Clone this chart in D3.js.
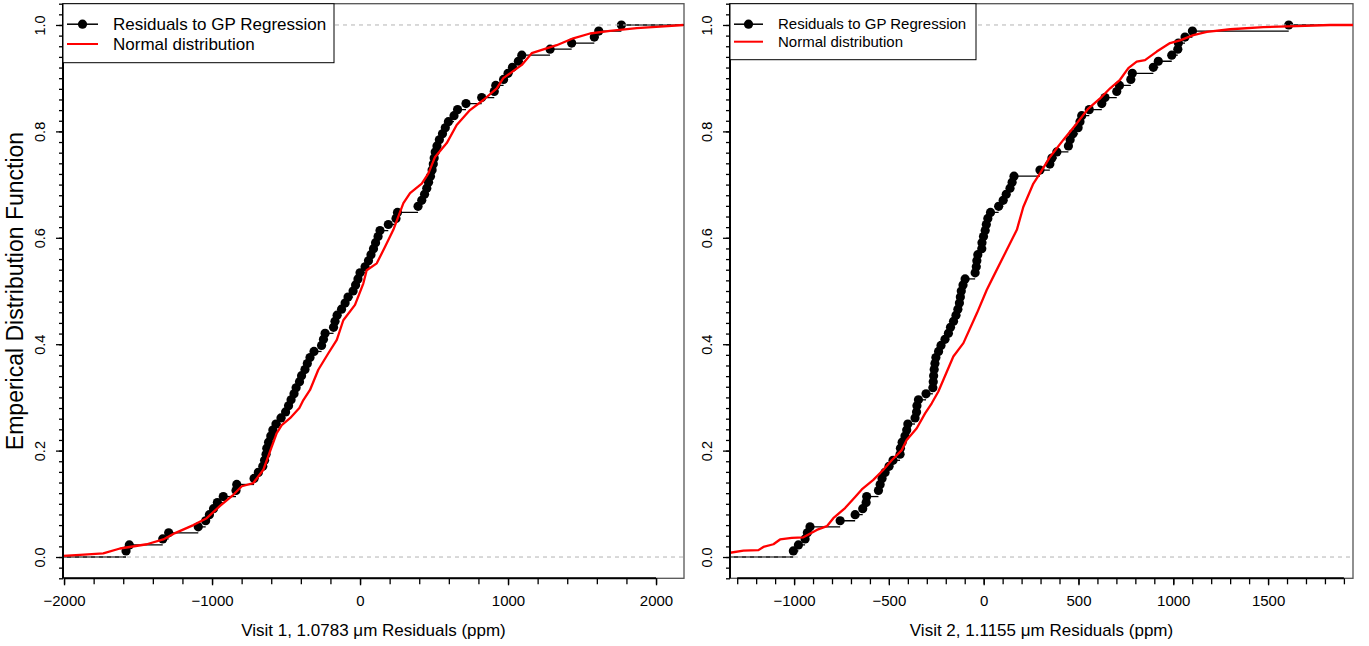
<!DOCTYPE html>
<html>
<head>
<meta charset="utf-8">
<script src="https://cdn.jsdelivr.net/npm/d3@7"></script>
<style>
  body { margin: 0; background: #fff; }
  svg { font-family: "Liberation Sans", Arial, Helvetica, sans-serif; }
</style>
</head>
<body>
<div id="chart"></div>
<script>
// sorted residuals (ppm), one dot per exposure
var visit1Residuals = [-1581,-1559,-1333,-1293,-1093,-1043,-1018,-990,-964,-924,
  -838,-833,-716,-687,-657,-645,-635,-630,-618,-603,
  -589,-568,-534,-503,-483,-466,-446,-432,-409,-395,
  -372,-356,-338,-311,-260,-247,-236,-179,-169,-155,
  -125,-101,-81,-47,-30,-14,0,34,57,74,
  91,105,122,135,191,243,253,392,417,436,
  451,463,476,487,495,501,508,520,536,557,
  576,597,635,659,716,822,907,917,970,1000,
  1030,1070,1093,1284,1430,1583,1613,1766];
var visit2Residuals = [-1004,-977,-942,-930,-916,-757,-678,-638,-620,-617,
  -555,-546,-536,-520,-499,-478,-441,-439,-430,-415,
  -406,-400,-362,-354,-352,-344,-304,-268,-266,-264,
  -261,-257,-252,-238,-225,-204,-186,-175,-159,-146,
  -136,-128,-123,-118,-109,-98,-45,-39,-36,-31,
  -10,-9,-1,8,14,22,36,79,103,119,
  139,150,160,297,349,360,386,447,456,471,
  498,508,517,557,623,640,702,716,776,784,
  895,921,992,1024,1027,1062,1101,1609];

// red curve: ecdf of the normal draws
var visit1NormX = [-2007,-1892,-1735,-1622,-1441,-1329,-1250,-1126,-1036,-946,-856,-799,-721,-653,-597,-563,-529,-473,-410,-383,-338,-282,-214,-157,-113,-34,22,45,113,169,225,293,338,417,462,507,586,653,743,833,924,968,1093,1160,1329,1441,1554,1689,1870,2027,2185];
var visit1NormY = [0.002,0.004,0.007,0.016,0.024,0.033,0.045,0.060,0.073,0.096,0.117,0.133,0.139,0.164,0.207,0.233,0.248,0.261,0.280,0.295,0.314,0.352,0.383,0.408,0.445,0.474,0.514,0.539,0.552,0.583,0.615,0.665,0.684,0.702,0.721,0.752,0.778,0.812,0.840,0.859,0.881,0.900,0.925,0.947,0.962,0.975,0.984,0.989,0.994,0.997,1.0];
var visit2NormX = [-1338,-1267,-1188,-1162,-1109,-1074,-1012,-951,-880,-827,-793,-731,-678,-643,-582,-529,-485,-432,-406,-353,-309,-274,-239,-160,-107,-36,16,51,113,175,209,262,297,350,420,491,552,623,667,719,763,807,851,913,983,1036,1106,1177,1300,1475,1651,1827,1948];
var visit2NormY = [0.008,0.012,0.013,0.019,0.024,0.033,0.036,0.037,0.051,0.058,0.073,0.092,0.113,0.127,0.145,0.164,0.182,0.201,0.220,0.242,0.270,0.289,0.311,0.377,0.402,0.458,0.502,0.527,0.571,0.615,0.658,0.702,0.721,0.752,0.784,0.815,0.843,0.865,0.881,0.897,0.919,0.931,0.934,0.950,0.966,0.971,0.981,0.987,0.992,0.996,0.998,1.0,1.0];

var visit1XTicks = [-2000,-1000,0,1000,2000];
var visit2XTicks = [-1000,-500,0,500,1000,1500];
var yTicks = [0,0.2,0.4,0.6,0.8,1.0];
var legendLabels = ['Residuals to GP Regression', 'Normal distribution'];
var xTitles = ['Visit 1, 1.0783 \u03bcm Residuals (ppm)', 'Visit 2, 1.1155 \u03bcm Residuals (ppm)'];
var yTitle = 'Emperical Distribution Function';

var W = 1369, H = 646;
var plotTop = 3.7, plotBottom = 578.3;

var svg = d3.select('#chart').append('svg')
    .attr('width', W)
    .attr('height', H);

var y = d3.scaleLinear().domain([-0.04, 1.04]).range([plotBottom, plotTop]);

var panels = [
  {left: 63, right: 684, domain: [-2007, 2189], minor: d3.range(-2000, 2001, 200),
   ticks: visit1XTicks, resid: visit1Residuals, nx: visit1NormX, ny: visit1NormY,
   title: xTitles[0], legW: 271, legH: 59, legFont: 17, legLine: [4, 35], legText: 50, legRow: [20.5, 40.3]},
  {left: 730, right: 1353, domain: [-1338, 1948], minor: d3.range(-1300, 1901, 100),
   ticks: visit2XTicks, resid: visit2Residuals, nx: visit2NormX, ny: visit2NormY,
   title: xTitles[1], legW: 246, legH: 56, legFont: 15, legLine: [4, 33], legText: 48, legRow: [20.5, 38]}
];

panels.forEach(function(p, k){
  var x = d3.scaleLinear().domain(p.domain).range([p.left, p.right]);
  var g = svg.append('g');

  g.append('clipPath').attr('id', 'clip' + k)
    .append('rect')
    .attr('x', p.left).attr('y', plotTop)
    .attr('width', p.right - p.left).attr('height', plotBottom - plotTop);

  //box
  g.append('rect')
    .attr('x', p.left).attr('y', plotTop)
    .attr('width', p.right - p.left).attr('height', plotBottom - plotTop)
    .attr('fill', 'none')
    .attr('stroke', '#555')
    .attr('stroke-width', 1.3);

  var plot = g.append('g').attr('clip-path', 'url(#clip' + k + ')');

  //ecdf steps
  var n = p.resid.length;
  var steps = p.resid.map(function(v, i){
    return {x0: v, x1: i < n - 1 ? p.resid[i + 1] : p.domain[1], y: (i + 1) / n};
  });
  steps.unshift({x0: p.domain[0], x1: p.resid[0], y: 0});

  plot.selectAll('.step')
    .data(steps)
    .enter()
    .append('line')
    .attr('x1', function(d){ return x(d.x0); })
    .attr('x2', function(d){ return x(d.x1); })
    .attr('y1', function(d){ return y(d.y); })
    .attr('y2', function(d){ return y(d.y); })
    .attr('stroke', '#000')
    .attr('stroke-width', 1.3);

  plot.selectAll('.pt')
    .data(p.resid)
    .enter()
    .append('circle')
    .attr('cx', function(d){ return x(d); })
    .attr('cy', function(d, i){ return y((i + 1) / n); })
    .attr('r', 4.6)
    .attr('fill', '#000');

  //0 and 1 reference lines
  plot.selectAll('.ref')
    .data([0, 1])
    .enter()
    .append('line')
    .attr('x1', p.left).attr('x2', p.right)
    .attr('y1', function(d){ return y(d); })
    .attr('y2', function(d){ return y(d); })
    .attr('stroke', '#b3b3b3')
    .attr('stroke-dasharray', '4,4')
    .attr('stroke-width', 1);

  //normal distribution curve
  var normLine = d3.line()
    .x(function(d){ return x(d[0]); })
    .y(function(d){ return y(d[1]); });
  plot.append('path')
    .datum(d3.zip(p.nx, p.ny))
    .attr('d', normLine)
    .attr('fill', 'none')
    .attr('stroke', '#ff0000')
    .attr('stroke-width', 2.3)
    .attr('stroke-linejoin', 'round');

  //x axis
  var xMinor = g.append('g').attr('transform', 'translate(0,' + plotBottom + ')')
    .call(d3.axisBottom(x).tickValues(p.minor).tickSize(6).tickFormat(''));
  var xMajor = g.append('g').attr('transform', 'translate(0,' + plotBottom + ')')
    .call(d3.axisBottom(x).tickValues(p.ticks).tickSize(7).tickPadding(10)
      .tickFormat(function(d){ return d < 0 ? '\u2212' + Math.abs(d) : d; }));
  [xMinor, xMajor].forEach(function(a){
    a.select('.domain').remove();
    a.selectAll('line').attr('stroke', '#000').attr('stroke-width', 1.3);
  });
  xMajor.selectAll('text')
    .style('font-size', '15px')
    .style('font-family', '"Liberation Sans", Arial, sans-serif')
    .attr('fill', '#000');
  g.append('line')
    .attr('x1', x(p.minor[0])).attr('x2', x(p.minor[p.minor.length - 1]))
    .attr('y1', plotBottom).attr('y2', plotBottom)
    .attr('stroke', '#000').attr('stroke-width', 2);

  //y axis
  var yMinor = g.append('g').attr('transform', 'translate(' + p.left + ',0)')
    .call(d3.axisLeft(y).tickValues(d3.range(-2, 53).map(function(j){ return j * 0.02; }))
      .tickSize(4).tickFormat(''));
  var yMajor = g.append('g').attr('transform', 'translate(' + p.left + ',0)')
    .call(d3.axisLeft(y).tickValues(yTicks).tickSize(7).tickFormat(d3.format('.1f')));
  [yMinor, yMajor].forEach(function(a){
    a.select('.domain').remove();
    a.selectAll('line').attr('stroke', '#000').attr('stroke-width', 1.3);
  });
  yMajor.selectAll('text')
    .attr('transform', 'rotate(-90)')
    .attr('x', 0)
    .attr('y', -18)
    .attr('dy', 0)
    .attr('text-anchor', 'middle')
    .style('font-size', '14.5px')
    .style('font-family', '"Liberation Sans", Arial, sans-serif')
    .attr('fill', '#000');
  g.append('line')
    .attr('x1', p.left).attr('x2', p.left)
    .attr('y1', plotTop).attr('y2', plotBottom)
    .attr('stroke', '#000').attr('stroke-width', 2);

  //x title
  g.append('text')
    .attr('x', (p.left + p.right) / 2)
    .attr('y', 636)
    .attr('text-anchor', 'middle')
    .style('font-size', '17px')
    .text(p.title);

  //legend
  var leg = g.append('g').attr('transform', 'translate(' + p.left + ',' + plotTop + ')');
  leg.append('rect')
    .attr('width', p.legW).attr('height', p.legH)
    .attr('fill', '#fff')
    .attr('stroke', '#000')
    .attr('stroke-width', 1);
  var cols = ['#000', '#ff0000'];
  legendLabels.forEach(function(lab, i){
    var ry = p.legRow[i];
    leg.append('line')
      .attr('x1', p.legLine[0]).attr('x2', p.legLine[1])
      .attr('y1', ry).attr('y2', ry)
      .attr('stroke', cols[i])
      .attr('stroke-width', i === 0 ? 1.5 : 2);
    if (i === 0) {
      leg.append('circle')
        .attr('cx', (p.legLine[0] + p.legLine[1]) / 2)
        .attr('cy', ry)
        .attr('r', 4.6)
        .attr('fill', '#000');
    }
    leg.append('text')
      .attr('x', p.legText)
      .attr('y', ry + p.legFont * 0.35)
      .style('font-size', p.legFont + 'px')
      .text(lab);
  });
});

//y title on left panel
svg.append('text')
  .attr('transform', 'translate(23,' + ((plotTop + plotBottom) / 2) + ') rotate(-90)')
  .attr('text-anchor', 'middle')
  .style('font-size', '23px')
  .text(yTitle);
</script>
</body>
</html>
